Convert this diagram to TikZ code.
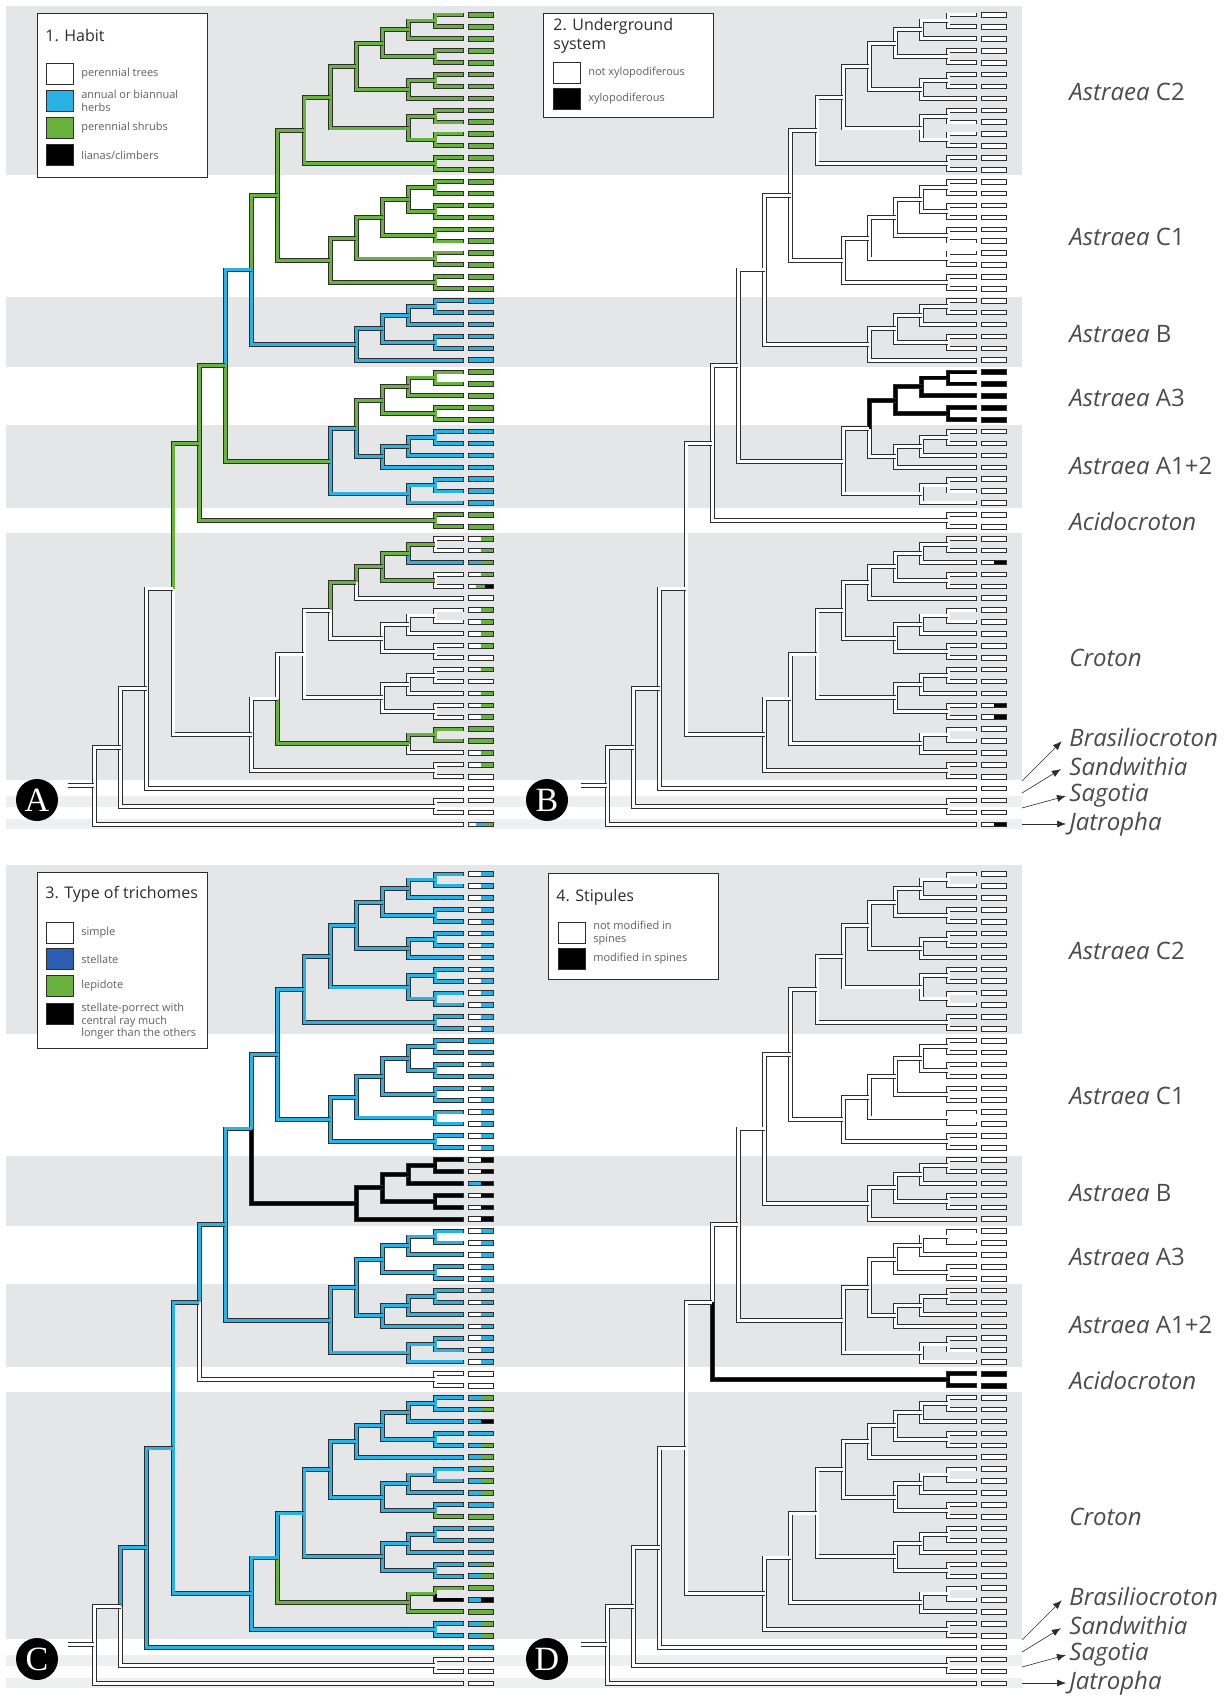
\documentclass[tikz,border=0pt]{standalone}
\usepackage{fontspec}
\setmainfont{Open Sans}
\newfontfamily\letterfont{Liberation Serif}
\usepackage{tikz}
\usetikzlibrary{arrows.meta,positioning,calc}

\definecolor{gr}{RGB}{106,178,62}
\definecolor{bl}{RGB}{40,178,230}
\definecolor{bk}{RGB}{0,0,0}
\definecolor{wh}{RGB}{255,255,255}
\definecolor{stel}{RGB}{46,94,178}
\definecolor{band}{RGB}{229,230,232}
\definecolor{bandlt}{RGB}{238,239,240}
\definecolor{ink}{RGB}{45,45,45}
\definecolor{txtgray}{RGB}{95,95,95}
\definecolor{cladegray}{RGB}{75,75,75}

% per panel: branch colours, default branch colour, tip box states
\newcommand\bc[3]{\expandafter\xdef\csname bc@#1@#2\endcsname{#3}}
\newcommand\dcol[2]{\expandafter\xdef\csname dc@#1\endcsname{#2}}
\newcommand\tbs[3]{\expandafter\xdef\csname tb@#1@#2\endcsname{#3}}

% name/level/child/child, children first
\newcommand\treelist{%
a1/1/t1/t2, a2/2/a1/t3, a3/1/t4/t5, a4/3/a2/a3, a5/1/t6/t7, a6/2/a5/t8,
a7/4/a4/a6, a8/1/t9/t10, a9/1/t11/t12, a10/2/a8/a9, a11/5/a7/a10,
a12/1/t13/t14, cII/6/a11/a12,
b1/1/t15/t16, b2/1/t17/t18, b3/2/b1/b2, b4/1/t19/t20, b5/3/b3/b4,
b6/1/t21/t22, b7/4/b5/b6, b8/1/t23/t24, cI/5/b7/b8, cc/7/cII/cI,
d1/1/t25/t26, d2/2/d1/t27, d3/1/t28/t29, d4/3/d2/d3, cB/4/d4/t30,
ccb/8/cc/cB,
e1/1/t31/t32, e2/2/e1/t33, e3/1/t34/t35, cAt/3/e2/e3,
f1/1/t36/t37, f2/2/f1/t38, f3/3/f2/t39, g1/4/cAt/f3,
f4/1/t40/t41, f5/2/f4/t42, cA/5/g1/f5, astr/9/ccb/cA,
acid/1/t43/t44, h1/10/astr/acid,
k1/1/t45/t46, k2/2/k1/t47, k3/1/t48/t49, k4/3/k2/k3, k5/4/k4/t50,
k6/1/t51/t52, k7/2/k6/t53, k8/1/t54/t55, k9/3/k7/k8, k10/5/k5/k9,
k11/1/t56/t57, k12/2/k11/t58, k13/1/t59/t60, k14/3/k12/k13,
k15/6/k10/k14, k16/1/t61/t62, k17/2/k16/t63, crot/7/k15/k17,
bras/1/t64/t65, h2/8/crot/bras, h3/11/h1/h2, h4/12/h3/t66,
sag/1/t67/t68, h5/13/h4/sag, root/14/h5/t69}

\newcommand\nd[4]{%
  \path ($(#3)!0.5!(#4)$) coordinate (#1m);
  \coordinate (#1) at (#1m -| L#2);
}

\newcommand\br[2]{%
  \ifcsname bc@\pn @#1\endcsname
    \edef\thecol{\csname bc@\pn @#1\endcsname}%
  \else
    \edef\thecol{\csname dc@\pn\endcsname}%
  \fi
  \draw[branch, double=\thecol] (#1) -| (#2);
}

\newcommand\tipbox[1]{%
  \ifcsname tb@\pn @#1\endcsname
    \edef\spec{\csname tb@\pn @#1\endcsname}%
  \else
    \def\spec{wh}%
  \fi
  \foreach \cl [count=\j] in \spec {\xdef\nparts{\j}}
  \foreach \cl [count=\j] in \spec {
    \fill[fill=\cl] ($(t#1)+({5+25*(\j-1)/\nparts},-2.3)$) rectangle ($(t#1)+({5+25*\j/\nparts},2.3)$);
  }
  \draw[tipframe] ($(t#1)+(5,-2.3)$) rectangle ($(t#1)+(30,2.3)$);
  \draw[tipframe] ($(t#1)+(0,-2.4)$) -- ($(t#1)+(0,2.4)$);
}

\newcommand\panel[1]{%
  \def\pn{#1}%
  \foreach \i in {1,...,69} {\coordinate (t\i) at (463,{15+11.9*(\i-1)});}
  \foreach \k in {1,...,14} {\coordinate (L\k) at ({435-26.2*(\k-1)},0);}
  \foreach \nn/\lv/\ca/\cb in \treelist {\nd{\nn}{\lv}{\ca}{\cb}}
  \coordinate (rs) at ($(root)+(-26.4,0)$);
  \foreach \nn/\lv/\ca/\cb in \treelist {\br{\ca}{\nn}\br{\cb}{\nn}}
  \br{rs}{root}
  \foreach \i in {1,...,69} {\tipbox{\i}}
}

\newcommand\cladelabels[1]{%
  \node[clade] (lbCII#1) at (1066,92) {\textit{Astraea} C2};
  \node[clade] (lbCI#1) at (1066,237) {\textit{Astraea} C1};
  \node[clade] (lbB#1) at (1066,334) {\textit{Astraea} B};
  \node[clade] (lbAIII#1) at (1066,398) {\textit{Astraea} A3};
  \node[clade] (lbAI#1) at (1066,466) {\textit{Astraea} A1+2};
  \node[clade] (lbAcid#1) at (1066,521) {\textit{Acidocroton}};
  \node[clade] (lbCrot#1) at (1066,658) {\textit{Croton}};
  \node[clade] (lbBras#1) at (1066,737) {\textit{Brasiliocroton}};
  \node[clade] (lbSand#1) at (1066,766) {\textit{Sandwithia}};
  \node[clade] (lbSag#1) at (1066,796) {\textit{Sagotia}};
  \node[clade] (lbJat#1) at (1066,824) {\textit{Jatropha}};
  \coordinate (aBras#1) at (1022,781);
  \coordinate (aSand#1) at (1022,793);
  \coordinate (aSag#1) at (1022,808);
  \coordinate (aJat#1) at (1022,824);
  \draw[pointer, shorten >=3pt] (aBras#1) -- (lbBras#1.west);
  \draw[pointer, shorten >=3pt] (aSand#1) -- (lbSand#1.west);
  \draw[pointer] (aSag#1) -- (lbSag#1.west);
  \draw[pointer] (aJat#1) -- (lbJat#1.west);
}

% 1. habit
\dcol{A}{wh}
\foreach \x in {a1,a2,a3,a4,a5,a6,a7,a8,a9,a10,a11,a12,cII,b1,b2,b3,b4,b5,b6,b7,b8,cI,cc,e1,e2,e3,cAt,cA,astr,acid,h1,k1,k2,k3,k4,k5,k16,k17,t31,t32,t33,t34,t35,t43,t44,t61,t62} {\bc{A}{\x}{gr}}
\foreach \i in {1,...,24} {\bc{A}{t\i}{gr}}
\foreach \x in {d1,d2,d3,d4,cB,ccb,f1,f2,f3,f4,f5,g1,t25,t26,t27,t28,t29,t30,t36,t37,t38,t39,t40,t41,t42,t47} {\bc{A}{\x}{bl}}
\foreach \i in {1,...,24,31,32,33,34,35,43,44,61,62} {\tbs{A}{\i}{gr}}
\foreach \i in {25,...,30,36,37,38,39,40,41,42} {\tbs{A}{\i}{bl}}
\foreach \i in {45,46,48,51,52,53,54,56,58,59,60,63,64} {\tbs{A}{\i}{wh,gr}}
\tbs{A}{47}{bl,gr}
\tbs{A}{49}{wh,gr,bk}
\tbs{A}{69}{wh,bl,gr}
% 2. underground system
\dcol{B}{wh}
\foreach \x in {e1,e2,e3,cAt,t31,t32,t33,t34,t35} {\bc{B}{\x}{bk}}
\foreach \i in {31,...,35} {\tbs{B}{\i}{bk}}
\foreach \i in {47,59,60,69} {\tbs{B}{\i}{wh,bk}}
% 3. trichomes
\dcol{C}{bl}
\foreach \x in {d1,d2,d3,d4,cB,t25,t26,t27,t28,t29,t30,t62} {\bc{C}{\x}{bk}}
\foreach \x in {acid,t43,t44,h5,sag,t67,t68,t69,rs} {\bc{C}{\x}{wh}}
\foreach \x in {k16,k17,t61,t63,t55} {\bc{C}{\x}{gr}}
\foreach \i in {1,...,14,17,19,20,21,22,23,24,31,32,33,34,35,36,37,38,39,40,41,42} {\tbs{C}{\i}{wh,bl}}
\foreach \i in {15,16,18,48,54,56,57,58,66} {\tbs{C}{\i}{bl}}
\foreach \i in {25,26,28,29,30} {\tbs{C}{\i}{wh,bk}}
\foreach \i in {27,47,62} {\tbs{C}{\i}{bl,bk}}
\foreach \i in {45,46,49,50,51,52,53,59,60,64,65} {\tbs{C}{\i}{bl,gr}}
\foreach \i in {55,61,63} {\tbs{C}{\i}{gr}}
% 4. stipules
\dcol{D}{wh}
\foreach \x in {acid,t43,t44} {\bc{D}{\x}{bk}}
\foreach \i in {43,44} {\tbs{D}{\i}{bk}}

\begin{document}
\begin{tikzpicture}[
    x=0.5pt, y=-0.5pt,
    branch/.style={draw=ink, line width=0.45pt, double distance=1.5pt},
    tipframe/.style={draw=ink, line width=0.35pt},
    legframe/.style={draw=ink, line width=0.55pt, fill=white, inner sep=0pt},
    swatch/.style={draw=ink, line width=0.45pt, minimum width=13.5pt,
        minimum height=10.5pt, inner sep=0pt},
    legtitle/.style={font=\fontsize{8}{9.5}\selectfont, text=ink, align=left, inner sep=0pt},
    legtext/.style={font=\fontsize{5.5}{6.2}\selectfont, text=txtgray, align=left, inner sep=0pt},
    clade/.style={font=\fontsize{12}{14}\selectfont, text=cladegray, anchor=west, inner sep=1.5pt},
    pointer/.style={draw=ink, line width=0.3pt, -{Latex[length=4.5pt,width=3.5pt]}},
    plabel/.style={circle, fill=black, text=white, minimum size=21pt, inner sep=0pt,
        font=\letterfont\fontsize{17}{17}\selectfont}
]
\fill[white] (0,0) rectangle (1231,1696);
\useasboundingbox (0,0) rectangle (1231,1696);

% clade bands
\foreach \oy in {0,859} {
  \fill[band] (6,{6+\oy}) rectangle (1022,{175+\oy});
  \fill[band] (6,{297+\oy}) rectangle (1022,{367+\oy});
  \fill[band] (6,{425+\oy}) rectangle (1022,{508+\oy});
  \fill[band] (6,{533+\oy}) rectangle (1022,{780+\oy});
  \fill[bandlt] (6,{796+\oy}) rectangle (1022,{807+\oy});
  \fill[bandlt] (6,{819+\oy}) rectangle (1022,{829+\oy});
}

% trees
\begin{scope}
  \panel{A}
\end{scope}
\begin{scope}[shift={(513,0)}]
  \panel{B}
\end{scope}
\begin{scope}[shift={(0,859)}]
  \panel{C}
\end{scope}
\begin{scope}[shift={(513,859)}]
  \panel{D}
\end{scope}

% legend 1
\node[legframe, anchor=north west, minimum width=85pt, minimum height=82pt] (legHabit) at (37,13) {};
\node[legtitle, anchor=west] (ttlHabit) at (45,36) {1. Habit};
\node[swatch, fill=wh, anchor=north west] (swTrees) at (46,63) {};
\node[swatch, fill=bl, anchor=north west] (swHerbs) at (46,90) {};
\node[swatch, fill=gr, anchor=north west] (swShrubs) at (46,117) {};
\node[swatch, fill=bk, anchor=north west] (swLianas) at (46,144) {};
\node[legtext, right=3.5pt of swTrees] (txTrees) {perennial trees};
\node[legtext, right=3.5pt of swHerbs] (txHerbs) {annual or biannual\\herbs};
\node[legtext, right=3.5pt of swShrubs] (txShrubs) {perennial shrubs};
\node[legtext, right=3.5pt of swLianas] (txLianas) {lianas/climbers};

% legend 2
\node[legframe, anchor=north west, minimum width=85pt, minimum height=52pt] (legRoot) at (543,13) {};
\node[legtitle, anchor=north west] (ttlRoot) at (553,18) {2. Underground\\system};
\node[swatch, fill=wh, anchor=north west] (swNoXylo) at (553,62) {};
\node[swatch, fill=bk, anchor=north west] (swXylo) at (553,88) {};
\node[legtext, right=3.5pt of swNoXylo] (txNoXylo) {not xylopodiferous};
\node[legtext, right=3.5pt of swXylo] (txXylo) {xylopodiferous};

% legend 3
\node[legframe, anchor=north west, minimum width=85pt, minimum height=88pt] (legHair) at (37,872) {};
\node[legtitle, anchor=west] (ttlHair) at (45,894) {3. Type of trichomes};
\node[swatch, fill=wh, anchor=north west] (swSimple) at (46,922) {};
\node[swatch, fill=stel, anchor=north west] (swStellate) at (46,948) {};
\node[swatch, fill=gr, anchor=north west] (swLepidote) at (46,975) {};
\node[swatch, fill=bk, anchor=north west] (swPorrect) at (46,1003) {};
\node[legtext, right=3.5pt of swSimple] (txSimple) {simple};
\node[legtext, right=3.5pt of swStellate] (txStellate) {stellate};
\node[legtext, right=3.5pt of swLepidote] (txLepidote) {lepidote};
\node[legtext, right=3.5pt of swPorrect.north east, anchor=north west] (txPorrect)
    {stellate-porrect with\\central ray much\\longer than the others};

% legend 4
\node[legframe, anchor=north west, minimum width=85pt, minimum height=53pt] (legStip) at (548,873) {};
\node[legtitle, anchor=west] (ttlStip) at (556,897) {4. Stipules};
\node[swatch, fill=wh, anchor=north west] (swNoSpine) at (558,922) {};
\node[swatch, fill=bk, anchor=north west] (swSpine) at (558,948) {};
\node[legtext, right=3.5pt of swNoSpine] (txNoSpine) {not modified in\\spines};
\node[legtext, right=3.5pt of swSpine] (txSpine) {modified in spines};

% clade names
\begin{scope}
  \cladelabels{top}
\end{scope}
\begin{scope}[shift={(0,859)}]
  \cladelabels{bot}
\end{scope}

% panel letters
\node[plabel] (pA) at (37,800) {A};
\node[plabel] (pB) at (547,800) {B};
\node[plabel] (pC) at (37,1659) {C};
\node[plabel] (pD) at (547,1659) {D};

\end{tikzpicture}
\end{document}
